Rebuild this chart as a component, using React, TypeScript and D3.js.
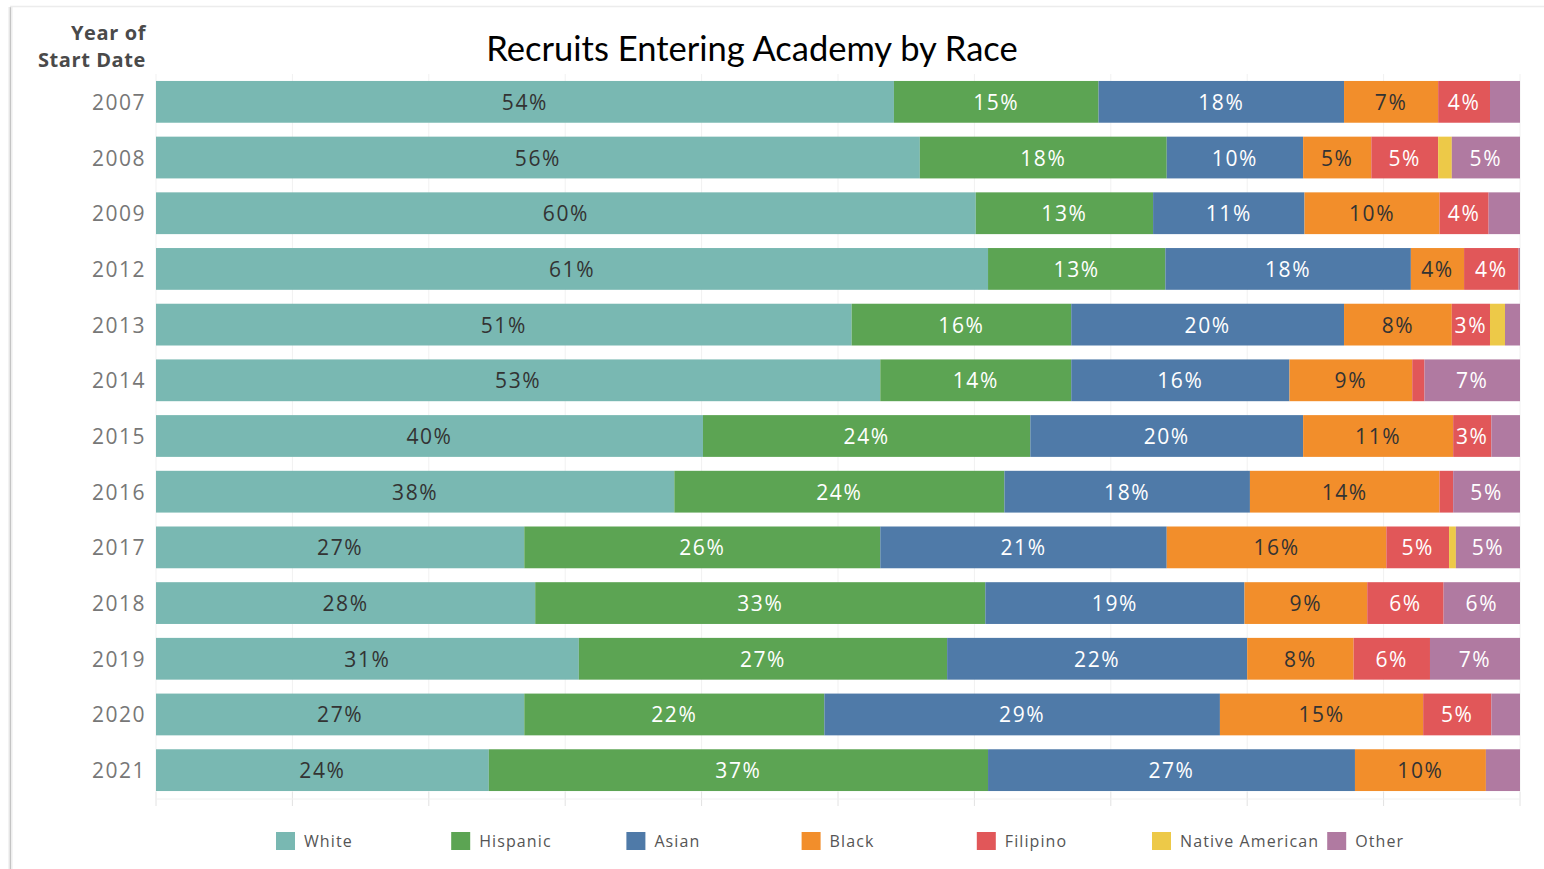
import React from 'react';
import * as d3 from 'd3';

// data (percent of recruits per year)
const years = ['2007', '2008', '2009', '2012', '2013', '2014', '2015', '2016', '2017', '2018', '2019', '2020', '2021'];
const white = [54.1, 56.0, 60.1, 61.0, 51.0, 53.1, 40.1, 38.0, 27.0, 27.8, 31.0, 27.0, 24.4];
const hispanic = [15.0, 18.1, 13.0, 13.0, 16.1, 14.0, 24.0, 24.2, 26.1, 33.0, 27.0, 22.0, 36.6];
const asian = [18.0, 10.0, 11.1, 18.0, 20.0, 16.0, 20.0, 18.0, 21.0, 19.0, 22.0, 29.0, 26.9];
const black = [6.9, 5.0, 9.9, 3.9, 7.9, 9.0, 11.0, 13.9, 16.1, 9.0, 7.8, 14.9, 9.6];
const filipino = [3.8, 4.9, 3.6, 4.0, 2.8, 0.9, 2.8, 1.0, 4.6, 5.6, 5.6, 5.0, 0];
const nativeAmerican = [0, 1.0, 0, 0, 1.1, 0, 0, 0, 0.5, 0, 0, 0, 0];
const other = [2.2, 5.0, 2.3, 0.1, 1.1, 7.0, 2.1, 4.9, 4.7, 5.6, 6.6, 2.1, 2.5];

const races = ['White', 'Hispanic', 'Asian', 'Black', 'Filipino', 'Native American', 'Other'];
const colors = ['#79b8b2', '#5ca453', '#4f7aa8', '#f28e2b', '#e15759', '#edc948', '#b07aa1'];
const labelColors = ['#333', '#fff', '#fff', '#333', '#fff', '#fff', '#fff'];
const ticks = [0, 10, 20, 30, 40, 50, 60, 70, 80, 90, 100];

const seriesValues = [white, hispanic, asian, black, filipino, nativeAmerican, other];

export default function App() {
    const width = 1544;
    const height = 869;
    const font = "'Open Sans', sans-serif";

    const rows = years.map((year, i) => {
        const row: any = { year };
        races.forEach((r, k) => { row[r] = seriesValues[k][i]; });
        return row;
    });
    const stacked = d3.stack().keys(races)(rows);

    const x = d3.scaleLinear().domain([0, 100]).range([156, 1520]);
    const y = d3.scaleBand().domain(years).range([74, 798]).paddingInner(0.25).paddingOuter(0.125);
    const color = d3.scaleOrdinal<string, string>().domain(races).range(colors);
    const legendX = d3.scaleBand().domain(races).range([276, 276 + 175.2 * races.length]);

    return (
        <svg width={width} height={height} style={{ position: 'absolute', left: 0, top: 0, background: '#fff' }}>
            {/* card frame shadow */}
            <line x1={9} y1={7} x2={9} y2={height} stroke="#e6e6e6" strokeWidth={1} />
            <line x1={10.5} y1={7} x2={10.5} y2={height} stroke="#c4c4c4" strokeWidth={1.5} />
            <line x1={12} y1={7} x2={12} y2={height} stroke="#ececec" strokeWidth={1} />
            <line x1={10} y1={6.5} x2={width} y2={6.5} stroke="#ececec" strokeWidth={1.5} />

            {/* gridlines and bottom ticks */}
            {ticks.map(t => (
                <g key={t}>
                    <line x1={x(t)} x2={x(t)} y1={74} y2={792} stroke="#f1f1f1" />
                    <line x1={x(t)} x2={x(t)} y1={792} y2={806} stroke="#e2e2e2" />
                </g>
            ))}
            <line x1={156} x2={1520} y1={799} y2={799} stroke="#f0f0f0" />

            {/* bars */}
            {stacked.map(s => (
                <g key={s.key} fill={color(s.key)}>
                    {s.map((d, i) => {
                        const w = x(d[1]) - x(d[0]);
                        if (w <= 0) return null;
                        return (
                            <rect key={i} x={x(d[0])} y={y(years[i])} width={w} height={y.bandwidth()} />
                        );
                    })}
                </g>
            ))}

            {/* bar labels */}
            {stacked.map((s, k) => (
                <g key={s.key + '-lbl'}>
                    {s.map((d, i) => {
                        const v = d[1] - d[0];
                        if (v < 2.6) return null;
                        return (
                            <text key={i}
                                x={(x(d[0]) + x(d[1])) / 2}
                                y={(y(years[i]) as number) + y.bandwidth() / 2}
                                textAnchor="middle" dominantBaseline="central"
                                fontFamily={font} fontSize={21} letterSpacing={1.6} fill={labelColors[k]}>
                                {Math.round(v)}%
                            </text>
                        );
                    })}
                </g>
            ))}

            {/* year labels */}
            {years.map(yr => (
                <text key={yr} x={146} y={(y(yr) as number) + y.bandwidth() / 2}
                    textAnchor="end" dominantBaseline="central"
                    fontFamily={font} fontSize={21} letterSpacing={1.5} fill="#777">
                    {yr}
                </text>
            ))}

            {/* row header */}
            <text x={146} y={40} textAnchor="end" fontFamily={font} fontSize={20} letterSpacing={0.6} fontWeight="bold" fill="#4a4a4a">Year of</text>
            <text x={146} y={67} textAnchor="end" fontFamily={font} fontSize={20} letterSpacing={0.6} fontWeight="bold" fill="#4a4a4a">Start Date</text>

            {/* title */}
            <text x={752} y={61} textAnchor="middle" fontFamily="Lato, sans-serif" fontSize={34.5} fill="#000">
                Recruits Entering Academy by Race
            </text>

            {/* legend */}
            {races.map(r => (
                <g key={r} transform={`translate(${legendX(r)},832)`}>
                    <rect width={19} height={18} fill={color(r)} />
                    <text x={28} y={9} dominantBaseline="central" fontFamily={font} fontSize={16} letterSpacing={1.1} fill="#555">{r}</text>
                </g>
            ))}
        </svg>
    );
}
